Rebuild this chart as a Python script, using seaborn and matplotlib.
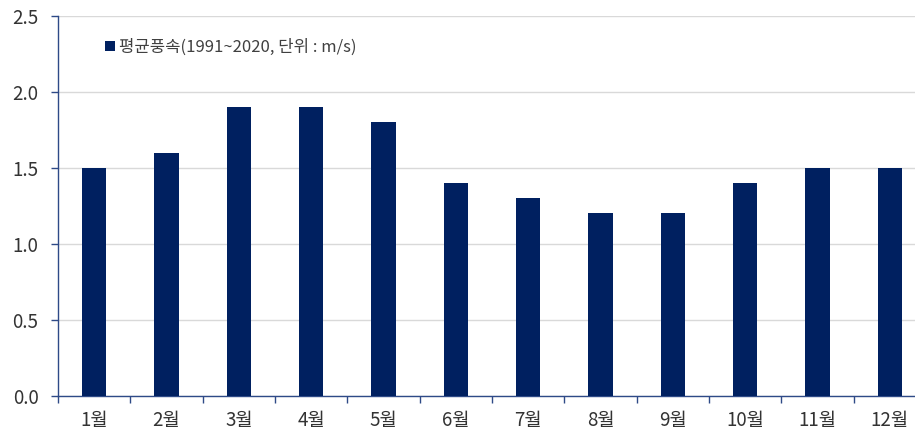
import matplotlib
matplotlib.use("Agg")
import matplotlib.pyplot as plt
import seaborn as sns
import pandas as pd

months = ["1월", "2월", "3월", "4월", "5월", "6월", "7월", "8월", "9월", "10월", "11월", "12월"]
wind = [1.5, 1.6, 1.9, 1.9, 1.8, 1.4, 1.3, 1.2, 1.2, 1.4, 1.5, 1.5]
legend_label = "평균풍속(1991~2020, 단위 : m/s)"

sns.set_style("white")
plt.rcParams['font.family'] = ['Noto Sans CJK KR', 'DejaVu Sans']

df = pd.DataFrame({"month": months, "wind": wind})

fig = plt.figure(figsize=(9.15, 4.36), dpi=100)
ax = fig.add_axes([58 / 915, 1 - 395.7 / 436, (926 - 58) / 915, (395.7 - 16) / 436])

sns.barplot(data=df, x="month", y="wind", color="#002060", width=0.34,
            saturation=1, linewidth=0, ax=ax, label=legend_label, zorder=3)

ax.set_ylim(0, 2.5)
ax.set_xlim(-0.5, 11.5)
ax.set_yticks([0, 0.5, 1.0, 1.5, 2.0, 2.5])
ax.set_yticklabels([f"{v:.1f}" for v in [0, 0.5, 1.0, 1.5, 2.0, 2.5]])
ax.yaxis.grid(True, color="#d9d9d9", linewidth=1, zorder=0)
ax.set_axisbelow(True)

# category boundary ticks on x axis
ax.set_xticks([i + 0.5 for i in range(-1, 12)], minor=True)
ax.tick_params(axis="x", which="minor", bottom=True, length=5, color="#2E4A87",
               direction="out", width=1)
ax.tick_params(axis="x", which="major", length=0, labelsize=13.5, colors="#333333", pad=10)
ax.tick_params(axis="y", left=True, length=5, color="#2E4A87", direction="out", width=1,
               labelsize=13.5, labelcolor="#333333", pad=9)

for s in ["top", "right"]:
    ax.spines[s].set_visible(False)
for s in ["left", "bottom"]:
    ax.spines[s].set_color("#2E4A87")
    ax.spines[s].set_linewidth(1)

ax.set_xlabel("")
ax.set_ylabel("")

leg = ax.legend(loc="upper left", bbox_to_anchor=(0.037, 0.98), frameon=False,
                handlelength=0.6, handleheight=0.6, handletextpad=0.25,
                prop={"size": 12})
for t in leg.get_texts():
    t.set_color("#404040")

fig.savefig("out.png", dpi=100)
